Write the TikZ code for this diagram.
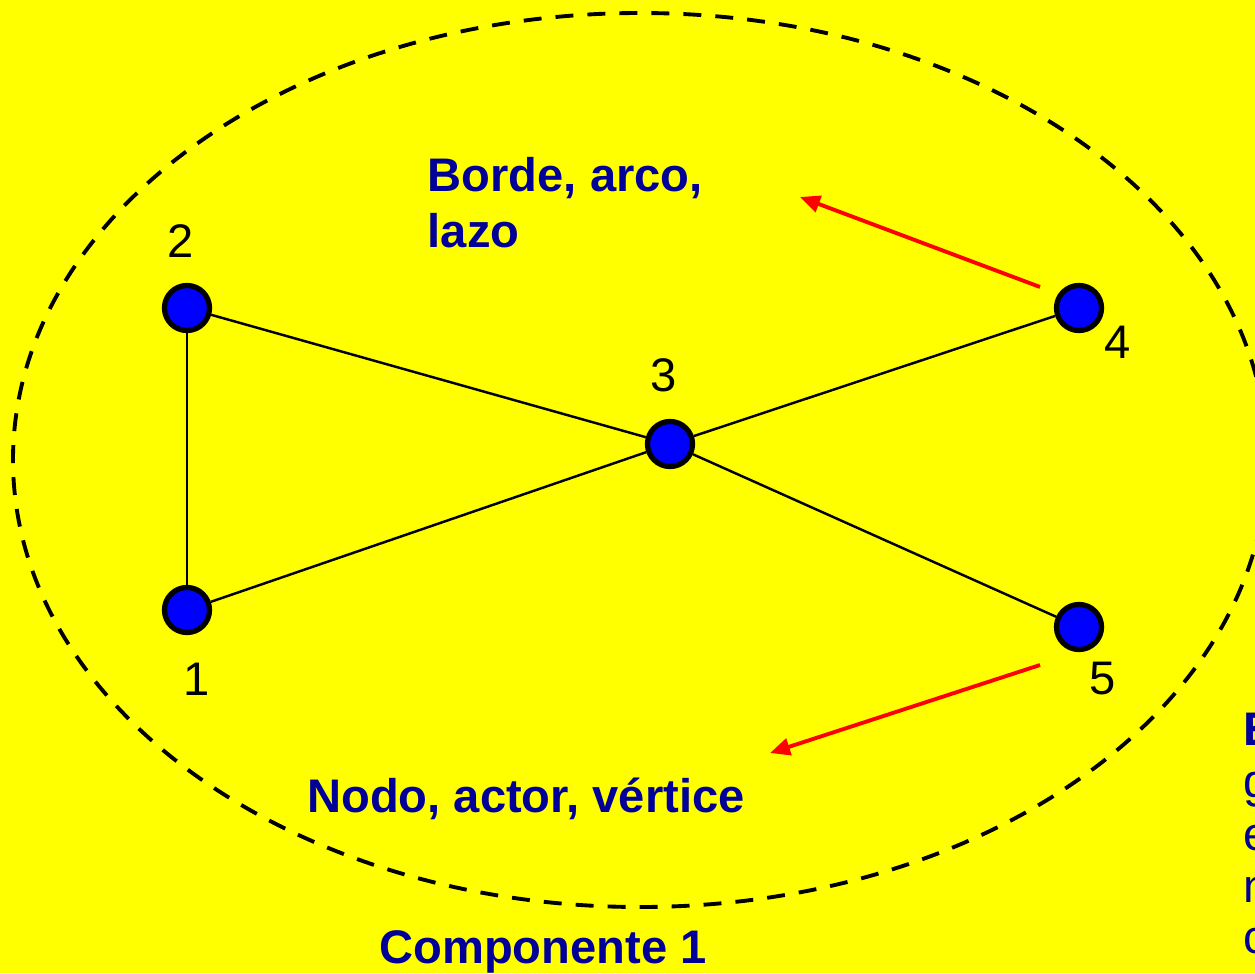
\documentclass[tikz,border=0pt]{standalone}
\usepackage{fontspec}
\setmainfont{Liberation Sans}
\usetikzlibrary{arrows.meta}
\definecolor{bg}{HTML}{FFFF00}
\definecolor{navy}{HTML}{000099}
\definecolor{nodeblue}{HTML}{0000FF}
\definecolor{arrred}{HTML}{FF0000}
\begin{document}
\begin{tikzpicture}[x=0.01cm,y=-0.01cm,
  vert/.style={circle,draw=black,line width=1.5pt,fill=nodeblue,minimum size=0.45cm,inner sep=0pt},
  edge/.style={draw=black,line width=0.7pt},
  pointer/.style={draw=arrred,line width=1.1pt,-{Triangle[length=0.2cm,width=0.17cm]}},
  num/.style={font=\fontsize{13.4}{16}\selectfont,text=black,inner sep=0pt,anchor=base},
  lbl/.style={font=\fontsize{13.4}{16}\selectfont\bfseries,text=navy,inner sep=0pt},
  side/.style={font=\fontsize{13.4}{16}\selectfont,text=navy,inner sep=0pt,anchor=base west}]
\fill[bg] (0,0) rectangle (1255,973);
\useasboundingbox (0,0) rectangle (1255,973);
% component ellipse
\draw[black,line width=1.1pt,dash pattern=on 5.1pt off 4pt] (640,460) ellipse [x radius=627,y radius=447];
% vertices
\node[vert] (n1) at (187,610) {};
\node[vert] (n2) at (187,308) {};
\node[vert] (n3) at (670,444) {};
\node[vert] (n4) at (1079,308) {};
\node[vert] (n5) at (1079,627) {};
% edges
\draw[edge] (n1) -- (n2);
\draw[edge] (n2) -- (n3);
\draw[edge] (n1) -- (n3);
\draw[edge] (n3) -- (n4);
\draw[edge] (n3) -- (n5);
% number labels
\node[num] (l1) at (197,695) {1};
\node[num] (l2) at (181,257) {2};
\node[num] (l3) at (664,391) {3};
\node[num] (l4) at (1118,358) {4};
\node[num] (l5) at (1103,694) {5};
% text labels
\node[lbl,anchor=base west] (borde) at (427,192) {Borde, arco,};
\node[lbl,anchor=base west] (lazo) at (427,247) {lazo};
\node[lbl,anchor=base] (nodo) at (526,812) {Nodo, actor, vértice};
\node[lbl,anchor=base] (comp) at (543,963) {Componente 1};
% red pointers
\coordinate (a1s) at (1040,287);
\coordinate (a1e) at (800,197);
\coordinate (a2s) at (1040,665);
\coordinate (a2e) at (770,753);
\draw[pointer] (a1s) -- (a1e);
\draw[pointer] (a2s) -- (a2e);
% side text, cut at the right edge as in the reference
\node[lbl,anchor=base west] (s0) at (1243,745) {E};
\node[side] (s1) at (1243,797) {g};
\node[side] (s2) at (1243,850) {e};
\node[side] (s3) at (1243,902) {n};
\node[side] (s4) at (1243,953) {c};
\end{tikzpicture}
\end{document}
